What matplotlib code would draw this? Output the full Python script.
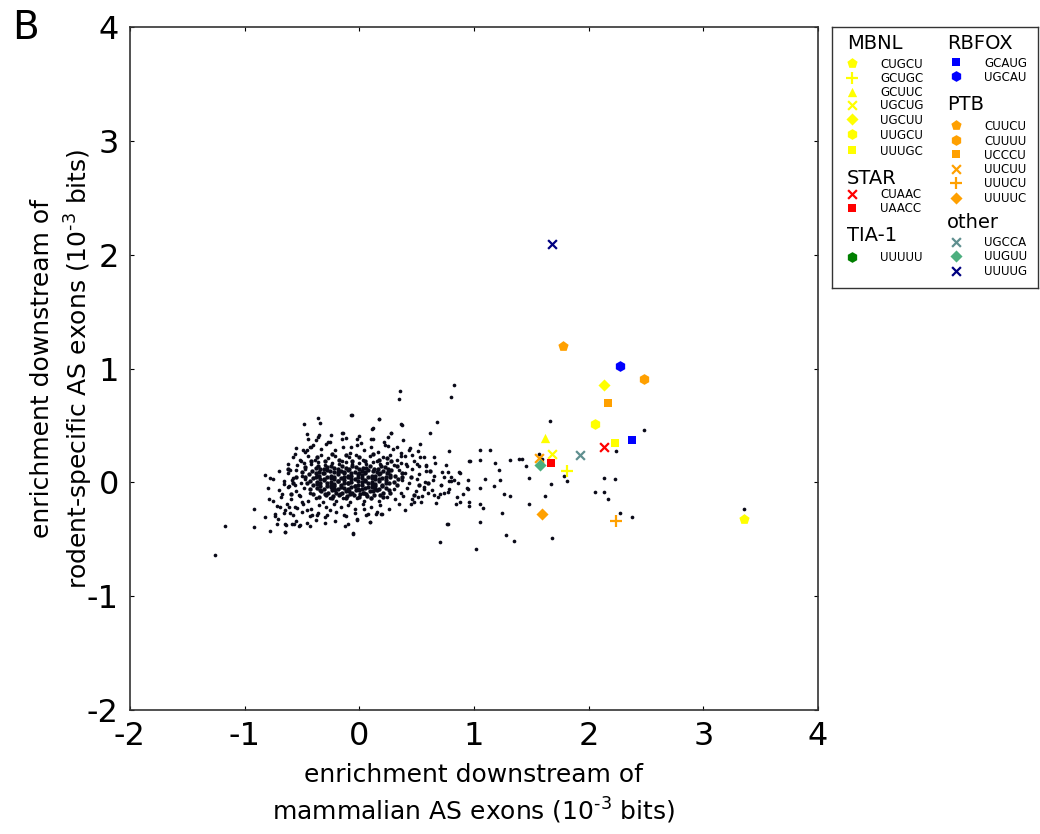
import matplotlib.pyplot as plt
import numpy as np

plt.rcParams['axes.unicode_minus'] = False

# background motifs (black dots) - dense core, surrounding ring, scattered tail
cloud_core = [
    (-0.38, 0.13), (-0.31, 0.12), (-0.25, 0.14), (-0.19, 0.12), (-0.12, 0.13), (-0.06, 0.14), (0.0, 0.12),
    (0.06, 0.13), (0.13, 0.12), (0.19, 0.14), (0.25, 0.12),
    (-0.41, 0.10), (-0.35, 0.09), (-0.28, 0.11), (-0.22, 0.09), (-0.16, 0.10), (-0.10, 0.11), (-0.04, 0.09),
    (0.02, 0.10), (0.08, 0.11), (0.15, 0.09), (0.21, 0.10), (0.28, 0.11),
    (-0.44, 0.07), (-0.37, 0.06), (-0.31, 0.08), (-0.25, 0.06), (-0.19, 0.07), (-0.13, 0.08), (-0.07, 0.06),
    (-0.01, 0.07), (0.05, 0.08), (0.11, 0.06), (0.17, 0.07), (0.24, 0.08), (0.31, 0.06),
    (-0.40, 0.04), (-0.34, 0.03), (-0.28, 0.05), (-0.22, 0.03), (-0.16, 0.04), (-0.10, 0.05), (-0.04, 0.03),
    (0.02, 0.04), (0.08, 0.05), (0.14, 0.03), (0.20, 0.04), (0.27, 0.05), (0.34, 0.03),
    (-0.43, 0.01), (-0.37, 0.00), (-0.31, 0.02), (-0.25, 0.00), (-0.19, 0.01), (-0.13, 0.02), (-0.07, 0.00),
    (-0.01, 0.01), (0.05, 0.02), (0.11, 0.00), (0.17, 0.01), (0.23, 0.02), (0.30, 0.00),
    (-0.40, -0.02), (-0.34, -0.03), (-0.28, -0.01), (-0.22, -0.03), (-0.16, -0.02), (-0.10, -0.01),
    (-0.04, -0.03), (0.02, -0.02), (0.08, -0.01), (0.14, -0.03), (0.20, -0.02), (0.26, -0.01),
    (-0.37, -0.05), (-0.31, -0.06), (-0.25, -0.04), (-0.19, -0.06), (-0.13, -0.05), (-0.07, -0.04),
    (-0.01, -0.06), (0.05, -0.05), (0.11, -0.04), (0.17, -0.06), (0.23, -0.05),
    (-0.33, -0.08), (-0.27, -0.09), (-0.21, -0.07), (-0.15, -0.09), (-0.09, -0.08), (-0.03, -0.07),
    (0.03, -0.09), (0.09, -0.08), (0.15, -0.07), (0.21, -0.09),
    (-0.29, -0.11), (-0.23, -0.12), (-0.17, -0.10), (-0.11, -0.12), (-0.05, -0.11), (0.01, -0.10),
    (0.07, -0.12), (0.13, -0.11),
    (-0.34, 0.115), (-0.22, 0.125), (-0.09, 0.115), (0.03, 0.125), (0.16, 0.115),
    (-0.32, 0.085), (-0.19, 0.095), (-0.07, 0.085), (0.05, 0.095), (0.18, 0.085),
    (-0.35, 0.055), (-0.22, 0.045), (-0.10, 0.055), (0.02, 0.065), (0.14, 0.055), (0.27, 0.065),
    (-0.31, 0.025), (-0.19, 0.015), (-0.07, 0.025), (0.05, 0.015), (0.17, 0.025),
    (-0.34, -0.005), (-0.22, -0.015), (-0.10, -0.005), (0.02, 0.005), (0.14, -0.015),
    (-0.28, -0.035), (-0.16, -0.045), (-0.04, -0.035), (0.08, -0.045), (0.20, -0.035),
    (-0.24, -0.065), (-0.12, -0.075), (0.00, -0.065), (0.12, -0.075),
    (-0.20, -0.095), (-0.08, -0.105), (0.04, -0.095),
    (-0.47, 0.135), (-0.36, 0.145), (-0.28, 0.135), (-0.15, 0.145), (-0.03, 0.135), (0.09, 0.145),
    (0.22, 0.135), (0.33, 0.145),
    (-0.50, 0.095), (-0.38, 0.08), (-0.26, 0.10), (-0.13, 0.09), (0.00, 0.08), (0.12, 0.10), (0.25, 0.09),
    (0.37, 0.08),
    (-0.47, 0.045), (-0.38, 0.05), (-0.25, 0.035), (-0.13, 0.045), (-0.01, 0.05), (0.11, 0.035),
    (0.23, 0.045), (0.37, 0.05),
    (-0.46, -0.01), (-0.37, -0.015), (-0.25, -0.02), (-0.13, -0.01), (-0.01, -0.02), (0.11, -0.015),
    (0.23, -0.01), (0.33, -0.025),
    (-0.43, -0.06), (-0.34, -0.065), (-0.22, -0.055), (-0.10, -0.06), (0.02, -0.055), (0.14, -0.06),
    (0.26, -0.065),
    (-0.40, -0.10), (-0.30, -0.10), (-0.18, -0.115), (-0.06, -0.095), (0.06, -0.105), (0.18, -0.11),
    (0.27, -0.09),
    (-0.35, -0.13), (-0.24, -0.14), (-0.12, -0.135), (0.00, -0.13), (0.10, -0.14), (0.21, -0.13),
    (-0.42, 0.19), (-0.30, 0.185), (-0.18, 0.195), (-0.06, 0.19), (0.05, 0.185), (0.17, 0.195), (0.28, 0.19),
    (-0.37, 0.22), (-0.24, 0.25), (-0.12, 0.24), (0.0, 0.225), (0.12, 0.25), (0.24, 0.215),
    (-0.62, 0.12), (-0.58, -0.01), (-0.55, 0.05), (-0.60, -0.10), (0.45, 0.05), (0.52, -0.02), (0.62, 0.10),
    (0.48, -0.11), (0.60, -0.01),
]

cloud_ring = [
    (-0.55, 0.30), (-0.47, 0.27), (-0.40, 0.33), (-0.33, 0.29), (-0.27, 0.35), (-0.21, 0.28), (-0.14, 0.31),
    (-0.08, 0.26), (-0.02, 0.33), (0.04, 0.28), (0.10, 0.31), (0.16, 0.27), (0.22, 0.33), (0.29, 0.29),
    (0.36, 0.26), (0.44, 0.30),
    (-0.58, 0.22), (-0.51, 0.19), (-0.45, 0.23), (-0.39, 0.20), (-0.33, 0.24), (-0.27, 0.21), (-0.21, 0.23),
    (-0.15, 0.19), (-0.09, 0.22), (-0.03, 0.24), (0.03, 0.20), (0.09, 0.23), (0.15, 0.19), (0.21, 0.22),
    (0.27, 0.24), (0.33, 0.20), (0.40, 0.23), (0.48, 0.19), (0.56, 0.22),
    (-0.62, 0.16), (-0.54, 0.15), (-0.48, 0.17), (-0.42, 0.16), (-0.36, 0.18), (-0.30, 0.15), (-0.24, 0.17),
    (-0.18, 0.16), (-0.12, 0.18), (-0.06, 0.16), (0.00, 0.17), (0.06, 0.16), (0.12, 0.18), (0.18, 0.16),
    (0.24, 0.17), (0.30, 0.15), (0.36, 0.17), (0.42, 0.14), (0.50, 0.16), (0.58, 0.14), (0.66, 0.17),
    (-0.36, 0.40), (-0.25, 0.42), (-0.12, 0.39), (0.00, 0.41), (0.12, 0.38), (0.25, 0.40), (0.38, 0.37),
    (-0.45, 0.38),
    (-0.70, 0.10), (-0.62, 0.08), (-0.55, 0.11), (-0.50, 0.06), (-0.47, 0.12),
    (0.35, 0.11), (0.40, 0.08), (0.46, 0.12), (0.52, 0.07), (0.58, 0.10), (0.65, 0.06), (0.72, 0.09),
    (0.80, 0.05), (0.88, 0.08),
    (-0.75, 0.03), (-0.66, 0.01), (-0.58, 0.04), (-0.51, -0.01), (-0.47, 0.03),
    (0.37, 0.02), (0.43, -0.01), (0.50, 0.03), (0.57, 0.00), (0.64, 0.02), (0.71, -0.02), (0.78, 0.01),
    (0.86, -0.01), (0.95, 0.02),
    (-0.80, -0.05), (-0.70, -0.07), (-0.62, -0.04), (-0.55, -0.08), (-0.48, -0.05), (-0.43, -0.09),
    (0.30, -0.06), (0.36, -0.09), (0.42, -0.05), (0.49, -0.08), (0.56, -0.04), (0.63, -0.07), (0.70, -0.10),
    (0.78, -0.06),
    (-0.68, -0.13), (-0.60, -0.15), (-0.52, -0.12), (-0.45, -0.16), (-0.38, -0.14), (-0.32, -0.17),
    (-0.26, -0.14), (-0.20, -0.16), (-0.14, -0.14), (-0.08, -0.17), (-0.02, -0.14), (0.04, -0.16),
    (0.10, -0.14), (0.17, -0.16), (0.24, -0.13), (0.31, -0.15), (0.38, -0.12), (0.46, -0.15), (0.55, -0.12),
    (-0.72, -0.21), (-0.63, -0.19), (-0.56, -0.22), (-0.49, -0.19), (-0.42, -0.23), (-0.35, -0.20),
    (-0.29, -0.22), (-0.22, -0.19), (-0.16, -0.22), (-0.10, -0.20), (-0.04, -0.23), (0.03, -0.19),
    (0.10, -0.22), (0.18, -0.20), (0.26, -0.23), (0.35, -0.19),
    (-0.66, -0.27), (-0.58, -0.29), (-0.50, -0.26), (-0.43, -0.30), (-0.36, -0.27), (-0.28, -0.29),
    (-0.20, -0.26), (-0.12, -0.30), (-0.04, -0.27), (0.06, -0.29), (0.15, -0.26),
    (-0.55, -0.34), (-0.46, -0.36), (-0.38, -0.33), (-0.30, -0.36), (-0.21, -0.34), (-0.10, -0.37),
]

cloud_tail = [
    (-1.255, -0.641), (-1.168, -0.387), (-0.921, -0.231), (-0.921, -0.393), (-0.825, 0.062), (-0.776, 0.041),
    (-0.776, -0.428), (-0.645, -0.437), (0.357, 0.802), (0.343, 0.729), (0.822, 0.858), (0.80, 0.75),
    (-0.064, 0.595), (-0.36, 0.565), (-0.346, 0.525), (-0.486, 0.51), (0.174, 0.554), (0.366, 0.51),
    (0.677, 0.53), (0.619, 0.433), (0.119, 0.48), (0.276, 0.437), (-0.142, 0.437), (-0.456, 0.422),
    (-0.355, 0.413), (1.049, 0.281), (1.136, 0.287), (0.779, 0.272), (1.31, 0.199), (0.962, 0.187),
    (1.049, 0.199), (1.186, 0.17), (1.215, 0.105), (1.099, 0.029), (1.229, 0.018), (1.171, -0.032),
    (1.049, -0.047), (0.939, -0.053), (1.258, -0.105), (1.316, -0.123), (0.765, -0.369), (0.70, -0.527),
    (1.02, -0.589), (1.282, -0.46), (1.345, -0.518), (1.244, -0.27), (1.055, -0.349), (1.049, -0.187),
    (1.078, -0.222), (0.953, -0.208), (0.881, -0.173), (0.852, -0.129), (-0.122, -0.387), (-0.055, -0.451),
    (0.09, -0.349), (0.198, -0.275), (-0.02, -0.325), (-0.427, -0.387), (-0.529, -0.387), (-0.587, -0.369),
    (-0.639, -0.378), (-0.732, -0.296), (-0.709, -0.325), (-0.82, -0.305), (-0.79, -0.143), (-0.752, -0.164),
    (-0.674, -0.099), (-0.689, -0.217), (-0.616, -0.217), (-0.607, 0.105), (-0.558, 0.252), (-0.52, 0.193),
    (-0.456, 0.281), (-0.421, 0.31), (-0.375, 0.369), (1.389, 0.208),
    (0.529, 0.334), (0.43, 0.281), (0.514, 0.275), (0.462, 0.237), (0.532, 0.222), (0.654, 0.222),
    (0.959, 0.185), (0.407, 0.164), (0.52, 0.14), (0.584, 0.149), (0.756, 0.149),
    (0.944, -0.056), (0.90, -0.10), (0.959, -0.173), (0.843, -0.187), (0.77, -0.363), (0.669, -0.178),
    (0.683, -0.129), (0.735, -0.094), (0.77, -0.085), (0.648, -0.108), (0.828, 0.018), (0.77, 0.09),
    (0.872, 0.09), (0.567, -0.055), (0.538, -0.173), (0.451, -0.187), (0.401, -0.246), (0.473, -0.173),
    (0.508, -0.129), (0.595, -0.094), (0.712, -0.026), (0.741, 0.047), (0.80, 0.011),
    (-0.732, -0.275), (-0.645, -0.246), (-0.602, -0.27), (-0.543, -0.222), (-0.50, -0.173), (-0.456, -0.246),
    (-0.412, -0.29), (-0.645, -0.363), (-0.573, -0.363), (-0.514, -0.378), (-0.645, -0.437), (-0.717, -0.363),
    (-0.66, -0.012), (-0.616, -0.035), (-0.587, 0.018), (-0.558, -0.026), (-0.529, -0.114), (-0.296, -0.305),
    (-0.369, -0.29), (-0.253, -0.246), (-0.133, -0.29), (-0.017, -0.328), (0.093, -0.349), (0.142, -0.275),
    (0.186, -0.275), (0.076, -0.275), (-0.052, -0.445), (0.041, -0.231),
    (-0.07, 0.589), (0.172, 0.554), (0.369, 0.507), (0.113, 0.472), (0.273, 0.437), (-0.148, 0.437),
    (-0.148, 0.384), (-0.024, 0.384), (0.099, 0.384), (0.017, 0.349), (0.215, 0.354), (0.25, 0.319),
    (0.326, 0.31), (-0.076, 0.31), (0.361, 0.228), (-0.433, 0.31), (-0.288, 0.34), (-0.253, 0.354),
    (-0.491, 0.287),
    (1.665, 0.536), (2.485, 0.457), (1.418, 0.208), (1.563, 0.252), (1.593, 0.208), (1.456, 0.141),
    (2.241, 0.272), (1.482, 0.041), (1.781, 0.059), (1.813, 0.015), (1.671, -0.015), (2.133, 0.035),
    (2.229, 0.029), (1.622, -0.12), (2.055, -0.088), (2.136, -0.085), (2.171, -0.147), (1.476, -0.193),
    (2.275, -0.272), (2.378, -0.302), (1.683, -0.492), (3.357, -0.234),
]

# highlighted motifs, by protein family
mbnl_motifs = ['CUGCU', 'GCUGC', 'GCUUC', 'UGCUG', 'UGCUU', 'UUGCU', 'UUUGC']
mbnl_x = [3.354, 1.813, 1.62, 1.683, 2.136, 2.055, 2.229]
mbnl_y = [-0.319, 0.10, 0.387, 0.252, 0.858, 0.516, 0.349]

star_motifs = ['CUAAC', 'UAACC']
star_x = [2.133, 1.671]
star_y = [0.31, 0.167]

tia_motifs = ['UUUUU']
tia_x = [np.nan]
tia_y = [np.nan]

rbfox_motifs = ['GCAUG', 'UGCAU']
rbfox_x = [2.378, 2.275]
rbfox_y = [0.369, 1.025]

ptb_motifs = ['CUUCU', 'CUUUU', 'UCCCU', 'UUCUU', 'UUUCU', 'UUUUC']
ptb_x = [1.78, 2.485, 2.171, 1.567, 2.241, 1.593]
ptb_y = [1.195, 0.905, 0.697, 0.211, -0.34, -0.279]

other_motifs = ['UGCCA', 'UUGUU', 'UUUUG']
other_x = [1.921, 1.575, 1.68]
other_y = [0.24, 0.149, 2.09]

YEL, ORA = '#ffff00', '#ffa000'
groups = [
    # name, motifs, x, y, markers, colors, legend column, header row, item rows
    ('MBNL', mbnl_motifs, mbnl_x, mbnl_y, ['p', '+', '^', 'x', 'D', 'h', 's'], [YEL] * 7,
     0, 16, [36, 50.5, 64.5, 77.5, 92, 107, 123]),
    ('STAR', star_motifs, star_x, star_y, ['x', 's'], ['#ff0000'] * 2, 0, 152, [167, 181]),
    ('TIA-1', tia_motifs, tia_x, tia_y, ['h'], ['#007f00'], 0, 209, [230]),
    ('RBFOX', rbfox_motifs, rbfox_x, rbfox_y, ['s', 'h'], ['#0000ff'] * 2, 1, 16, [35, 49]),
    ('PTB', ptb_motifs, ptb_x, ptb_y, ['p', 'h', 's', 'x', '+', 'D'], [ORA] * 6,
     1, 77, [98, 113, 127, 142, 156, 171]),
    ('other', other_motifs, other_x, other_y, ['x', 'D', 'x'], ['#5f8f8f', '#4daf7f', '#000080'],
     1, 196, [215, 229, 244]),
]

sizes = {'p': 60, 'h': 60, 's': 40, 'D': 38, '^': 45, 'x': 40, '+': 70}

fig = plt.figure(figsize=(10.4, 8.34), dpi=100)
ax = fig.add_axes([0.125, 0.1487, 0.6615, 0.8189])

core = np.array(cloud_core)
rest = np.array(cloud_ring + cloud_tail)
ax.scatter(core[:, 0], core[:, 1], s=10, c='#0a0a18', linewidths=0, zorder=2)
ax.scatter(rest[:, 0], rest[:, 1], s=7, c='#0a0a18', linewidths=0, zorder=2)

for name, motifs, xs, ys, markers, colors, col, hrow, rows in groups:
    for i in range(len(motifs)):
        m = markers[i]
        lw = 1.6 if m in ('x', '+') else 0
        ax.scatter(xs[i], ys[i], marker=m, s=sizes[m], c=colors[i], linewidths=lw, zorder=3)

ax.set_xlim(-2, 4)
ax.set_ylim(-2, 4)
ax.set_xticks(range(-2, 5))
ax.set_yticks(range(-2, 5))
ax.tick_params(direction='in', length=3, top=True, right=True, labelsize=23, pad=8)
for s in ax.spines.values():
    s.set_linewidth(1.2)
    s.set_color('#333333')

ax.set_xlabel('enrichment downstream of\nmammalian AS exons (10$^{\\text{-3}}$ bits)', fontsize=18,
              labelpad=8, linespacing=1.35)
ax.set_ylabel('enrichment downstream of\nrodent-specific AS exons (10$^{\\text{-3}}$ bits)', fontsize=18,
              labelpad=-6, linespacing=1.35)

fig.text(0.012, 0.966, 'B', fontsize=28, va='center', ha='left')

# legend box drawn by hand
lax = fig.add_axes([0.8, 0.6547, 0.198, 0.3129])
lax.set_xlim(0, 206)
lax.set_ylim(261, 0)
lax.set_xticks([])
lax.set_yticks([])
for s in lax.spines.values():
    s.set_linewidth(1.0)
    s.set_color('#333333')

col_head = [15, 115]
col_mark = [20, 124]
col_text = [48, 152]
for name, motifs, xs, ys, markers, colors, col, hrow, rows in groups:
    lax.text(col_head[col], hrow, name, fontsize=14, va='center', ha='left')
    for i in range(len(motifs)):
        m = markers[i]
        lw = 1.6 if m in ('x', '+') else 0
        lax.scatter(col_mark[col], rows[i], marker=m, s=sizes[m], c=colors[i], linewidths=lw, clip_on=False)
        lax.text(col_text[col], rows[i] + 1, motifs[i], fontsize=8.5, va='center', ha='left')

fig.savefig('out.png', dpi=100)
